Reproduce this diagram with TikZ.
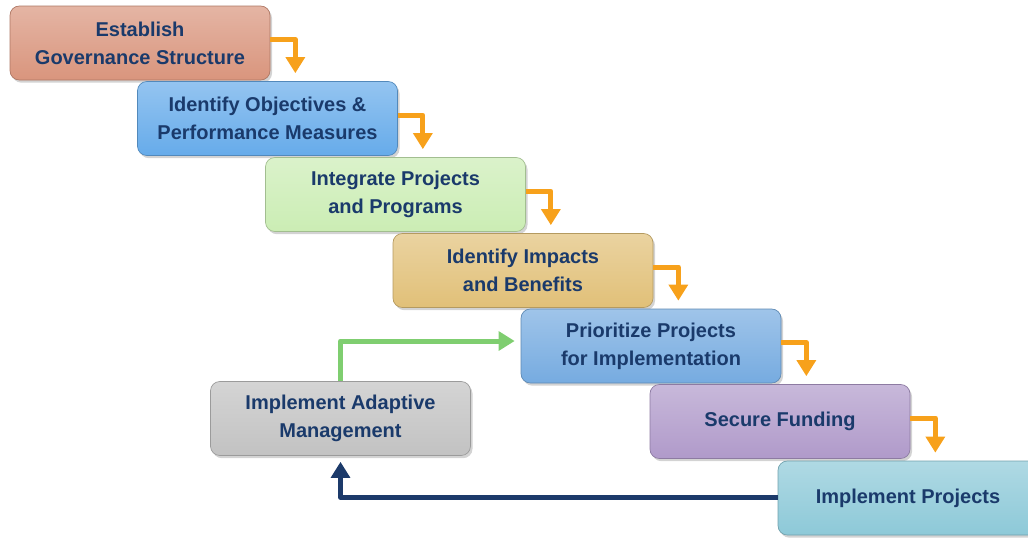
\documentclass[tikz,border=0pt]{standalone}
\usepackage{fontspec}
\setmainfont{Liberation Sans}
\usetikzlibrary{arrows.meta,shadows,calc}
\definecolor{txt}{HTML}{1A3A6B}
\definecolor{cA}{HTML}{D9957D}
\definecolor{cB}{HTML}{66ABEA}
\definecolor{cC}{HTML}{CBEDB4}
\definecolor{cD}{HTML}{E1C078}
\definecolor{cE}{HTML}{76ABE0}
\definecolor{cF}{HTML}{B09ACA}
\definecolor{cG}{HTML}{8DC9D8}
\definecolor{cH}{HTML}{C2C2C2}
\definecolor{orng}{HTML}{F7A11B}
\definecolor{grn}{HTML}{7FCE70}
\definecolor{navy}{HTML}{1C3A6A}
\tikzset{
  box/.style={rounded corners=7pt, minimum width=195pt, minimum height=55.5pt,
    align=center, font=\bfseries\fontsize{15}{21}\selectfont, text=txt,
    draw=#1!80!black, line width=0.5pt, top color=#1!70!white, bottom color=#1,
    drop shadow={opacity=0.35, shadow xshift=1.5pt, shadow yshift=-2pt}},
  conn/.style={line width=3.75pt, line join=round, -{Triangle[width=14pt,length=12pt]}},
  oarrow/.style={conn, draw=orng, orng},
}
\begin{document}
\begin{tikzpicture}[x=0.75pt,y=-0.75pt]
\useasboundingbox (0,0) rectangle (1028,537);
\clip (0,0) rectangle (1028,537);
\node[box=cA] (b1) at (140,43) {Establish\\Governance Structure};
\node[box=cB] (b2) at (267.5,118.5) {Identify Objectives \&\\Performance Measures};
\node[box=cC] (b3) at (395.5,194.5) {Integrate Projects\\and Programs};
\node[box=cD] (b4) at (523,270.5) {Identify Impacts\\and Benefits};
\node[box=cE] (b5) at (651,346) {Prioritize Projects\\for Implementation};
\node[box=cF] (b6) at (780,421.5) {Secure Funding};
\node[box=cG] (b7) at (908,498) {Implement Projects};
\node[box=cH] (am) at (340.5,418.5) {Implement Adaptive\\Management};
\foreach \a/\b in {b1/b2,b2/b3,b3/b4,b4/b5,b5/b6,b6/b7}{
  \path ([yshift=2.6pt]\a.east) ++(25,0) coordinate (t);
  \draw[oarrow, shorten >=6pt] ([yshift=2.6pt]\a.east) -- (t) -- (t |- \b.north);
}
\draw[conn, draw=grn, grn, shorten >=4.5pt] (am.north) |- ([yshift=3.75pt]b5.west);
\draw[conn, draw=navy, navy, shorten >=4.5pt] ([yshift=0.5pt]b7.west) -| (am.south);
\end{tikzpicture}
\end{document}
